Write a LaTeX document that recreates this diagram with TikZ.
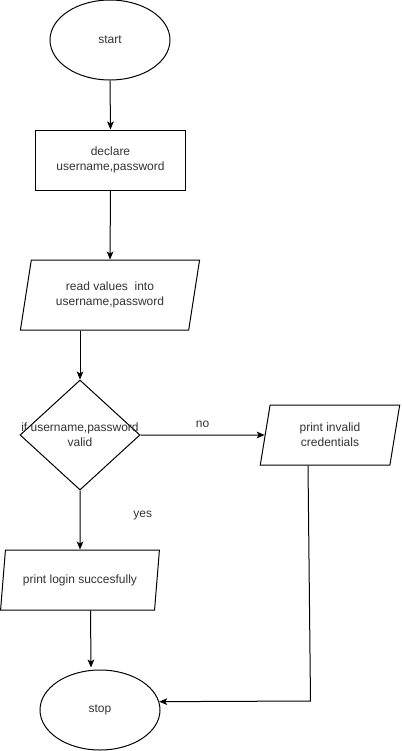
\documentclass[tikz,border=0pt]{standalone}
\usepackage{fontspec}
\setmainfont{Liberation Sans}
\usetikzlibrary{shapes.geometric,arrows.meta,calc}
\definecolor{txt}{HTML}{333333}
\begin{document}
\begin{tikzpicture}[x=0.75pt,y=-0.75pt,
  every node/.style={font=\fontsize{9}{11.25}\selectfont, text=txt},
  shp/.style={draw=black, line width=0.75pt, inner sep=0pt, align=center},
  term/.style={shp, ellipse, minimum width=90pt, minimum height=60pt},
  procbox/.style={shp, rectangle, minimum width=112.5pt, minimum height=45pt},
  iobox/.style={shp, trapezium, trapezium stretches=true},
  decbox/.style={shp, diamond, minimum width=90pt, minimum height=82.5pt},
  conn/.style={draw=black, line width=0.75pt, -{Stealth[length=6pt,width=5pt,inset=1.5pt]}},
  lbl/.style={inner sep=0pt}
]
\useasboundingbox (0,0) rectangle (401,751);
\fill[white] (0,0) rectangle (401,751);

\node[term] (start) at (110,40) {start};
\node[procbox] (declare) at (110.5,160) {declare\\username,password};
\node[iobox, trapezium left angle=74.05, trapezium right angle=105.95,
      minimum width=135pt, minimum height=52.5pt] (read) at (110,295)
      {read values~ into\\username,password};
\node[decbox] (dec) at (80,435) {};
\node[lbl, align=center] (dectext) at (80,435) {if username,password\\valid};
\node[iobox, trapezium left angle=78.2, trapezium right angle=101.8,
      minimum width=105pt, minimum height=45pt] (invalid) at (330,435)
      {print invalid\\credentials};
\node[iobox, trapezium left angle=71.57, trapezium right angle=108.43,
      minimum width=120pt, minimum height=45pt] (login) at (80,580)
      {print login succesfully};
\node[term] (stop) at (100,710) {stop};

\draw[conn] (start.south) -- (declare.north);
\draw[conn] (declare.south) -- (read.north);
\draw[conn] (dec.north |- read.south) -- (dec.north);
\draw[conn] (dec.east) -- node[lbl, above=5pt] (no) {no} (invalid.west);
\draw[conn] (dec.south) -- node[lbl, pos=0.42, xshift=47pt] (yes) {yes} (login.north);
\draw[conn] ($(login.south)+(10.5,0)$) -- ($(stop.north)+(-9,-2)$);
\coordinate (turn) at (310.5,701);
\draw[conn] ($(invalid.south)+(-22,0)$) -- (turn) -- (stop.8);
\end{tikzpicture}
\end{document}
